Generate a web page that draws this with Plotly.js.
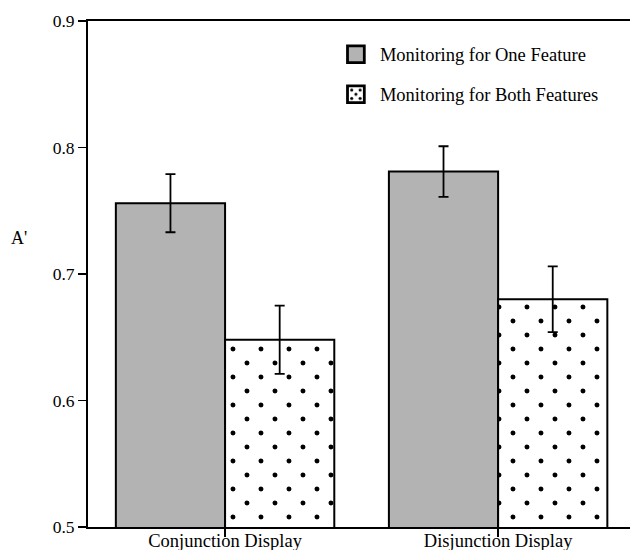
<!DOCTYPE html>
<html>
<head>
<meta charset="utf-8">
<script src="https://cdn.plot.ly/plotly-3.0.1.min.js"></script>
<style>html,body{margin:0;padding:0;background:#fff;}#chart{width:630px;height:550px;}</style>
</head>
<body>
<div id="chart"></div>
<script>
const categories = ["Conjunction Display", "Disjunction Display"];
const seriesNames = ["Monitoring for One Feature", "Monitoring for Both Features"];
const oneFeature = [0.756, 0.781];
const oneFeatureErr = [0.023, 0.020];
const bothFeatures = [0.648, 0.680];
const bothFeaturesErr = [0.027, 0.026];
const yTicks = [0.5, 0.6, 0.7, 0.8, 0.9];

const serif = "'Liberation Serif', 'Times New Roman', Times, serif";

const traces = [
  {
    type: "bar", name: seriesNames[0], x: categories, y: oneFeature,
    legendgroup: "a",
    marker: {color: "#b3b3b3", line: {color: "#000", width: 2}},
    error_y: {type: "data", array: oneFeatureErr, visible: true, color: "#000", thickness: 1.8, width: 5}
  },
  {
    type: "bar", name: seriesNames[1], x: categories, y: bothFeatures,
    legendgroup: "b",
    marker: {color: "#fff", line: {color: "#000", width: 2},
      pattern: {shape: ".", size: 28, solidity: 0.025, fgcolor: "#000", bgcolor: "#fff", fillmode: "replace"}},
    error_y: {type: "data", array: bothFeaturesErr, visible: true, color: "#000", thickness: 1.8, width: 5}
  }
];

const layout = {
  width: 630, height: 550,
  margin: {l: 88, r: 0, t: 21, b: 23},
  paper_bgcolor: "#fff", plot_bgcolor: "#fff",
  font: {family: serif, size: 18.5, color: "#000"},
  barmode: "group", bargap: 0.2, bargroupgap: 0,
  showlegend: true,
  legend: {x: 0.45, y: 0.971, xanchor: "left", yanchor: "top", bgcolor: "rgba(0,0,0,0)",
    itemwidth: 38, tracegroupgap: 13, font: {family: serif, size: 18.5}},
  xaxis: {
    type: "category", range: [-0.502, 1.483],
    showline: true, linecolor: "#000", linewidth: 2, mirror: true,
    ticks: "outside", ticklen: 8, tickcolor: "#000", tickwidth: 1.5,
    ticklabelstandoff: -12,
    tickfont: {family: serif, size: 18.5},
    showgrid: false, zeroline: false, fixedrange: true
  },
  yaxis: {
    range: [0.5, 0.9], tickvals: yTicks, ticktext: yTicks.map(v => v.toFixed(1)),
    showline: true, linecolor: "#000", linewidth: 2,
    ticks: "outside", ticklen: 8, tickcolor: "#000", tickwidth: 1.5,
    tickfont: {family: serif, size: 17.5},
    showgrid: false, zeroline: false, fixedrange: true
  },
  annotations: [
    {text: "A'", xref: "paper", yref: "paper", x: -0.145, y: 0.571, showarrow: false,
      xanchor: "left", yanchor: "middle", font: {family: serif, size: 18}}
  ]
};

const SVGNS = "http://www.w3.org/2000/svg";
function dot(p, cx, cy, r) {
  const c = document.createElementNS(SVGNS, "circle");
  c.setAttribute("cx", cx); c.setAttribute("cy", cy); c.setAttribute("r", r);
  c.setAttribute("fill", "#000");
  p.appendChild(c);
}

Plotly.newPlot("chart", traces, layout, {displayModeBar: false, staticPlot: true}).then(function (gd) {
  // legend swatches: larger, and note which patterns they use
  const legendIds = new Set();
  gd.querySelectorAll(".legend .legendpoints path").forEach(function (path) {
    const t = path.getAttribute("transform") || "";
    path.setAttribute("transform", t + " scale(1.4)");
    const fill = (path.getAttribute("style") || "") + " " + (path.getAttribute("fill") || "");
    const m = fill.match(/url\(["']?#([^"')]+)/);
    if (m) legendIds.add(m[1]);
  });
  gd.querySelectorAll("pattern").forEach(function (p) {
    const c = p.querySelector("circle");
    if (!c) return;
    if (legendIds.has(p.id)) {
      // dice-like dots inside the legend swatch
      p.setAttribute("width", 12); p.setAttribute("height", 12);
      p.removeAttribute("patternTransform");
      const rect = p.querySelector("rect");
      if (rect) { rect.setAttribute("width", 12); rect.setAttribute("height", 12); }
      c.remove();
      const r = 1.1;
      [[3, 3], [9, 3], [3, 9], [9, 9], [0, 0], [12, 0], [0, 12], [12, 12]].forEach(function (q) { dot(p, q[0], q[1], r); });
    } else {
      // staggered dot fill: two dots per 28px tile
      c.setAttribute("cx", 5); c.setAttribute("cy", 20);
      const c2 = c.cloneNode(true);
      c2.setAttribute("cx", 19); c2.setAttribute("cy", 6);
      p.appendChild(c2);
    }
  });
});
</script>
</body>
</html>
